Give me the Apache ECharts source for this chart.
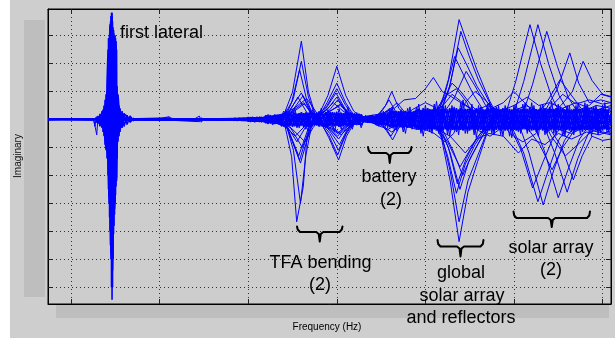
<!DOCTYPE html>
<html><head><meta charset="utf-8">
<script src="https://cdn.jsdelivr.net/npm/echarts@6/dist/echarts.min.js"></script>
<style>html,body{margin:0;padding:0;background:#fff}#c{width:615px;height:338px}</style>
</head><body><div id="c"></div>
<script>
// ---- axis ticks ----
const xTicks = [10,20,30,40,50,60,70];
const yTicks = [-6,-5,-4,-3,-2,-1,0,1,2,3];

// ---- first lateral mode (dense zig-zag of many FRFs) ----
const lateralFreq = [12.82,13.05,13.27,13.50,13.61,13.72,13.84,13.95,14.06,14.18,14.23,14.29,14.35,14.40,14.46,14.51,14.57,14.63,14.68,14.74,14.80,14.85,14.91,14.97,15.02,15.08,15.14,15.19,15.30,15.42,15.53,15.76,15.98,16.32,16.66,17.11];
const lateralA = [.1,-.15,.2,-.3,.35,-.6,.7,-1.0,1.0,-2.0,2.9,-3.0,3.0,-4.0,3.5,-5.0,3.82,-6.45,3.5,-5.0,3.2,-3.8,3.0,-3.0,2.9,-2.4,2.5,-1.4,.6,-.6,.4,-.3,.22,-.18,.12,-.06];
const lateralB = [-.12,.12,-.25,.3,-.45,.5,-.9,.9,-1.4,2.0,-2.5,2.9,-3.5,3.3,-4.5,3.7,-6.0,3.7,-6.0,3.3,-4.1,3.0,-3.4,3.0,-2.7,2.8,-2.1,1.2,-.8,.5,-.45,.3,-.25,.15,-.1,.05];
const lateralC = [.05,.1,-.1,-.2,.2,.3,-.7,-1.1,1.3,2.5,-2.0,-2.8,2.9,3.4,-4.2,-4.8,3.6,3.82,-5.4,-4.6,3.1,3.0,-3.2,-2.9,2.8,2.6,-2.2,-1.2,.9,.4,-.3,-.25,.2,.12,-.08,.04];

// ---- low-frequency baseline FRFs ----
const baseA = [[7.4,.03],[9,.02],[11,.03],[12.5,.02],[12.75,-.3],[12.9,-.55],[13.0,-.1],[13.3,.03],[16,.03],[18,.02],[20,.03],[21.1,.1],[21.3,.02],[24,.03],[24.5,.12],[24.7,-.1],[25,.03],[28,.03]];
const baseB = [[7.4,-.03],[9,-.02],[12.6,-.03],[12.7,-.25],[12.8,-.03],[16,-.03],[21,-.03],[21.1,-.1],[21.3,-.03],[24.5,-.08],[24.7,.06],[25,-.03],[28,-.03]];

// ---- FRFs with visible modal peaks (Hz, imaginary) ----
const m1 = [[7.4,0],[12,.02],[20,0],[26,.03],[30,.05],[32,-.1],[33,.15],[34,.14],[35,.98],[36.0,2.8],[36.8,.98],[37.6,.14],[38.2,-.1],[39.0,-.25],[40.1,-.5],[41.0,-.22],[42,.05],[43.5,-.1],[45,.15],[46.2,.3],[47.2,.1],[49,-.2],[50.5,.2],[51.8,-.65],[52.8,-2.2],[53.8,-4.37],[54.8,-2.6],[55.9,-1.5],[57,-.45],[58,.2],[59.2,.34],[60.2,1.36],[61.8,3.39],[63,2.0],[64.2,.85],[65.2,.2],[66.5,-.3],[68,.2],[69.5,-.1],[70.95,.3]];
const m2 = [[7.4,0],[15,-.02],[22,.02],[27,-.03],[30,.04],[32,-.08],[33.5,.1],[34.2,-.3],[34.9,-1.33],[35.47,-3.66],[36.22,-2.4],[36.6,-.73],[37.2,-.1],[37.8,.05],[39.0,.86],[40.0,1.9],[41.0,.86],[41.9,.3],[42.8,.05],[44,.1],[45.5,-.15],[46.3,-.3],[47.3,-.05],[49,.15],[50.5,-.2],[51.6,.36],[52.6,1.43],[53.8,3.57],[54.6,2.85],[55.8,1.78],[57.2,.7],[58.2,.1],[59.5,-.1],[60.7,-.3],[61.7,-1.2],[63.3,-3.06],[64.5,-1.8],[65.7,-.75],[67,-.15],[68.5,.1],[70.95,-.2]];
const m3 = [[7.4,.02],[14,0],[20,-.02],[26,0],[30,-.05],[32,.1],[33.5,-.1],[34.2,.1],[35.1,.75],[36.0,2.08],[36.8,.8],[37.6,.1],[38.2,-.1],[39.1,-.65],[40.2,-1.45],[41.1,-.6],[42,-.1],[43.5,.1],[45,-.1],[46.5,.2],[48,-.1],[50,.15],[51.8,-.5],[52.8,-1.85],[53.8,-3.66],[54.8,-2.2],[55.9,-1.3],[57,-.4],[58,.1],[60.1,.34],[61.1,1.36],[62.7,3.39],[63.9,2.0],[65.1,.85],[66.1,.3],[67.5,-.1],[69,.3],[70.95,.5]];
const m4 = [[7.4,-.02],[16,.02],[24,-.02],[28,.03],[31,-.05],[33,.08],[34.3,-.2],[35.1,-1.1],[35.9,-3.0],[36.5,-1.3],[37.1,-.3],[37.8,0],[38.9,.6],[40.0,1.3],[41.0,.6],[42,.1],[43.5,-.1],[45.5,.15],[47,-.1],[49,.2],[50.5,-.15],[51.8,.3],[52.8,1.26],[54.0,3.15],[54.9,2.3],[56,1.4],[57.4,.5],[58.5,-.1],[59.8,-.3],[61.1,-1.2],[62.7,-2.94],[63.9,-1.8],[65.1,-.7],[66.3,-.2],[68,.15],[70.95,0]];
const m5 = [[7.4,0],[12.9,-.02],[18,.02],[25,0],[30,.05],[32.5,-.1],[34.0,.1],[34.9,.62],[35.8,1.78],[36.6,.7],[37.4,.1],[38.2,-.15],[39.1,-.57],[40.1,-1.27],[41.0,-.55],[41.9,-.1],[43,.1],[44.5,.1],[45.5,.5],[46.2,1.0],[47.0,.4],[48,.05],[50,-.15],[51.6,-.4],[52.5,-1.3],[53.5,-2.64],[54.5,-1.6],[55.6,-.9],[56.8,-.3],[58,.1],[61.1,.3],[62.1,1.26],[63.7,3.15],[64.9,1.9],[66.1,.8],[67.1,.3],[68.5,.5],[69.8,.9],[70.95,.8]];
const m6 = [[7.4,0],[20,.02],[27,-.02],[31,.06],[33,-.1],[34.4,-.3],[35.9,-1.56],[37.0,-.35],[37.8,.1],[38.9,.5],[40.0,1.1],[41.0,.5],[42,.05],[43.5,-.1],[44.8,-.1],[45.6,-.4],[46.3,-.73],[47.0,-.3],[48.2,0],[50,.2],[51.6,.26],[52.6,1.0],[53.7,2.56],[54.6,2.0],[55.8,1.2],[57.2,.5],[58.5,-.1],[60.5,-.2],[62.4,-.3],[63.4,-1.1],[65.0,-2.8],[66.2,-1.7],[67.4,-.7],[68.5,-.2],[70,-.45],[70.95,-.5]];
const m7 = [[7.4,.01],[13,0],[21.1,.06],[22,0],[28,.02],[31,-.06],[33,.1],[34.4,.2],[36.0,.95],[37.1,.2],[38.2,-.1],[39.2,-.5],[40.2,-1.1],[41.1,-.45],[42,-.05],[44,.15],[46,-.1],[48,.15],[50,-.2],[51.8,-.35],[52.8,-1.2],[53.9,-2.5],[54.9,-1.5],[56,-.85],[57.1,-.25],[58.5,.15],[60,-.1],[63.5,.3],[64.9,1.1],[66.3,2.38],[67.3,1.3],[68.5,.6],[69.8,.7],[70.95,.6]];
const m8 = [[7.4,0],[16,.02],[24.6,-.05],[25.2,.03],[29,0],[31.5,.08],[33,-.05],[34.4,-.3],[35.8,-1.45],[36.9,-.3],[37.8,0],[38.9,.45],[39.9,.95],[40.9,.4],[41.8,.05],[43,-.1],[44.5,.1],[45.2,.35],[45.9,.7],[46.7,.25],[48,-.05],[49.5,.15],[51.2,.25],[52.2,.9],[53.3,2.25],[54.3,1.6],[55.4,.9],[56.6,.3],[58,-.15],[60,.1],[63.4,-.25],[64.6,-1.2],[66.0,-2.6],[67.2,-1.4],[68.4,-.5],[69.6,-.3],[70.95,-.3]];
const m9 = [[7.4,0],[12.9,.02],[19,-.02],[26,.02],[30,-.04],[32,.05],[34.6,.15],[36.2,.85],[37.3,.15],[38.4,-.1],[39.3,-.45],[40.3,-.9],[41.2,-.35],[42.3,0],[44,-.1],[46,.15],[48,-.1],[50,.1],[51.6,-.35],[52.6,-1.0],[53.6,-2.3],[54.6,-1.4],[55.7,-.7],[57,-.2],[58.5,.2],[61,-.2],[64,.1],[65.3,.5],[66.6,1.0],[67.8,2.08],[68.8,1.4],[70,.9],[70.95,.82]];
const m10 = [[7.4,0],[17,-.02],[23,.02],[28,-.02],[32,.06],[33.5,-.1],[34.5,-.35],[35.7,-1.3],[36.8,-.3],[37.7,.05],[38.9,.35],[40.0,.8],[41.0,.3],[42,0],[44,.1],[45.4,-.25],[46.1,-.6],[46.9,-.2],[48,.05],[50,-.1],[52,.2],[53.3,.8],[54.6,1.72],[55.6,1.2],[56.8,.5],[58,.05],[60,-.15],[64,-.3],[65.4,-1.0],[66.7,-2.16],[67.7,-1.3],[68.8,-.6],[70,-.75],[70.95,-.7]];
const m11 = [[7.4,0],[14,.01],[22,-.03],[27,.02],[31,.05],[33,-.08],[34.5,.2],[35.6,.8],[36.7,.2],[38.0,-.1],[39.2,-.35],[40.2,-.7],[41.2,-.25],[42.5,.05],[44.5,-.1],[47,.15],[49,.1],[50.5,-.1],[52,-.4],[53.1,-1.1],[54.2,-2.0],[55.2,-1.3],[56.4,-.6],[57.6,-.1],[59,.2],[62,.1],[63.5,.5],[65.2,1.42],[66.4,.9],[67.8,.3],[69.3,.5],[70.95,.4]];
const m12 = [[7.4,0],[15,0],[21,.03],[25,-.02],[30,.03],[32.5,.08],[34.6,-.2],[36.1,-1.0],[37.2,-.2],[38.2,.05],[39.2,.35],[40.1,.7],[41.1,.25],[42.3,-.05],[44,.12],[46.5,-.1],[49,.2],[51.4,.3],[52.2,.8],[53.0,1.3],[54,1.0],[55.2,.5],[56.5,.1],[58.3,-.2],[59.6,-.3],[60.8,-1.1],[62.1,-2.45],[63.3,-1.5],[64.5,-.6],[65.8,-.1],[67.5,-.3],[69,.2],[70.95,.1]];
const m13 = [[7.4,0],[18,.02],[26,-.02],[31,.05],[33.5,.1],[35,.3],[36.3,.6],[37.3,.1],[38.3,.15],[39.5,.35],[40.4,.5],[41.5,.15],[43,-.05],[45,.1],[47,-.05],[49,-.2],[51,-.2],[52.5,-.8],[53.9,-1.7],[55,-1.1],[56.2,-.5],[57.5,0],[59,.2],[61.5,-.3],[62.9,-.9],[64.3,-1.8],[65.5,-1.0],[66.8,-.4],[68.5,0],[70.95,-.2]];
const m14 = [[7.4,0],[19,0],[27,.02],[31,-.05],[33.5,-.1],[34.5,-.3],[35.5,-.8],[36.6,-.2],[38,-.05],[39.4,-.25],[40.4,-.5],[41.4,-.15],[43,.1],[45,.2],[46.5,.4],[47.6,.7],[48.9,.75],[50.0,1.1],[50.9,1.5],[51.9,1.0],[53,.8],[54.5,.5],[56,.2],[57.5,.4],[58.8,.6],[60.0,1.0],[61.2,.6],[62.8,.1],[64.5,-.3],[66.5,-.5],[68.5,-.2],[70.95,-.1]];
// small-amplitude modal FRFs
const s1 = [[7.4,0],[20,.01],[28,0],[31,.05],[33,.1],[34.8,.2],[36.3,.55],[37.5,.15],[38.5,.25],[39.6,.6],[40.7,.3],[42,.05],[43.5,0],[45,.15],[46,.4],[47,.15],[49,.3],[50.5,.2],[52,.5],[53.0,.9],[54.2,.6],[55.5,.3],[57,.5],[58.5,.3],[60,.5],[61.5,.8],[62.8,.5],[64,.6],[65.5,.4],[67,.6],[68.5,.4],[70.95,.3]];
const s2 = [[7.4,0],[18,-.01],[28,0],[31,-.05],[33,-.12],[34.2,-.25],[35.3,-.6],[36.5,-.2],[38,-.15],[39.4,-.3],[40.5,-.55],[41.6,-.2],[43,-.05],[45,-.2],[46.2,-.45],[47.3,-.2],[49,-.35],[51,-.3],[52.8,-.6],[54.5,-1.2],[55.8,-.7],[57.2,-.5],[58.8,-.6],[60.5,-1.2],[62,-.7],[63.5,-.9],[65,-.5],[66.5,-.7],[68.2,-.45],[69.6,-.55],[70.95,-.4]];
const s3 = [[7.4,0],[22,.01],[28,0],[32,.08],[34,.2],[35.2,.4],[36.6,.75],[37.6,.3],[38.4,-.2],[39.3,-.35],[40.1,-.6],[40.9,-.25],[42,0],[44,-.1],[45.6,.25],[46.8,.6],[47.8,.2],[49.5,-.3],[51,-.5],[52.2,-.8],[53.2,-.5],[54.5,.6],[55.6,1.0],[56.7,.7],[58,.3],[59.5,-.5],[61,-.8],[62.5,-.5],[64,.4],[65.5,.9],[67,.55],[68.5,.7],[70,.55],[70.95,.6]];
const s4 = [[7.4,0],[24,-.01],[28,0],[32,-.06],[34,-.15],[35,-.35],[36.4,-.8],[37.3,-.3],[38.3,.1],[39.3,.3],[40.4,.55],[41.5,.2],[43,.05],[44.5,-.2],[45.8,-.35],[47,-.15],[48.5,.35],[50,.6],[51.3,.4],[52.5,.9],[53.5,1.1],[54.7,.6],[56,-.4],[57.3,-.6],[58.6,-.3],[60,.3],[61.3,.5],[62.8,.3],[64.2,-.6],[65.8,-1.3],[67.2,-.9],[68.8,-.4],[70.95,-.55]];

// ---- dense band of low-amplitude FRFs ----
const bandFreq = [28,28.5,29,29.5,30,30.5,31,31.5,32,32.5,
33,33.5,34,34.5,35,35.5,36,36.5,37,37.5,
38,38.5,39,39.5,40,40.5,41,41.5,42,42.5,
43,43.5,44,44.5,45,45.5,46,46.5,47,47.5,
48,48.5,49,49.5,50,50.5,51,51.5,52,52.5,
53,53.5,54,54.5,55,55.5,56,56.5,57,57.5,
58,58.5,59,59.5,60,60.5,61,61.5,62,62.5,
63,63.5,64,64.5,65,65.5,66,66.5,67,67.5,
68,68.5,69,69.5,70,70.5,70.95];
const b1 = [.03,-.03,.04,-.04,.07,-.06,.08,-.09,.14,-.12,
.15,-.16,.22,-.25,.2,-.24,.26,-.22,.25,-.2,
.24,-.26,.22,-.25,.2,-.23,.26,-.22,.2,-.18,
.1,-.08,.1,-.2,.18,-.22,.3,-.26,.28,-.3,
.27,-.3,.35,-.38,.36,-.34,.4,-.37,.35,-.4,
.38,-.36,.4,-.35,.37,-.4,.34,-.38,.4,-.36,
.38,-.4,.36,-.35,.4,-.38,.37,-.4,.35,-.36,
.4,-.37,.38,-.35,.4,-.36,.38,-.4,.35,-.38,
.4,-.36,.38,-.4,.35,-.38,.2];
const b2 = [-.03,.04,-.03,.04,-.06,.08,-.07,.08,-.13,.15,
-.16,.14,-.24,.22,-.26,.2,-.22,.25,-.24,.22,
-.25,.2,-.24,.26,-.22,.24,-.2,.25,-.18,.2,
-.09,.1,-.07,.18,-.2,.2,-.28,.3,-.25,.28,
-.3,.26,-.36,.34,-.4,.37,-.35,.38,-.4,.36,
-.35,.4,-.37,.38,-.4,.35,-.38,.36,-.34,.4,
-.37,.35,-.4,.38,-.36,.4,-.35,.38,-.4,.37,
-.36,.4,-.35,.38,-.37,.4,-.36,.35,-.4,.37,
-.38,.4,-.35,.37,-.4,.36,-.1];
const b3 = [.02,.02,-.02,-.03,.05,.04,-.05,-.06,.1,.08,
-.1,-.12,.16,.15,-.15,-.18,.18,.14,-.16,-.15,
.16,.18,-.15,-.17,.18,.15,-.16,-.14,.14,.12,
-.07,-.06,.06,.12,-.14,-.16,.2,.22,-.2,-.22,
.22,.2,-.26,-.28,.25,.28,-.26,-.25,.28,.26,
-.27,-.24,.28,.26,-.25,-.28,.26,.24,-.27,-.26,
.28,.25,-.26,-.28,.24,.27,-.28,-.25,.26,.28,
-.25,-.27,.28,.24,-.26,-.28,.25,.27,-.26,-.24,
.27,.25,-.28,-.26,.24,.26,-.2];
const b4 = [-.01,.03,.01,-.02,.04,-.07,.02,.06,-.1,.05,
.12,-.08,-.18,.2,.05,-.2,.1,.22,-.15,.05,
-.22,.18,.08,-.2,.24,-.05,-.2,.18,.05,-.15,
.06,-.1,.08,-.15,.12,.05,-.25,.2,.1,-.3,
.22,.05,-.33,.3,-.1,.35,-.3,.12,.3,-.35,
.05,.32,-.3,-.08,.35,-.32,.1,.3,-.35,.02,
.34,-.3,-.1,.33,-.35,.08,.36,-.28,-.05,.35,
-.33,.1,.3,-.36,.05,.34,-.3,-.1,.35,-.32,
.08,.33,-.34,.05,.3,-.3,.25];
const b5 = [.02,-.01,.03,-.03,.06,-.05,.08,-.08,.12,-.15,
.18,-.14,.3,-.1,.35,-.3,.2,-.35,.3,-.2,
.3,-.25,.35,-.2,.28,-.35,.3,-.2,.22,-.2,
.12,-.1,.12,-.15,.25,-.25,.35,-.4,.3,-.45,
.4,-.35,.45,-.5,.5,-.45,.55,-.5,.48,-.55,
.5,-.45,.6,-.5,.45,-.55,.5,-.45,.55,-.5,
.45,-.55,.5,-.6,.5,-.45,.55,-.5,.6,-.45,
.5,-.55,.45,-.5,.55,-.6,.5,-.45,.5,-.55,
.6,-.5,.45,-.55,.5,-.45,-.3];
const b6 = [0,.02,.03,.02,0,-.04,-.06,-.04,0,.08,
.1,.05,-.1,-.15,-.05,.1,.18,.1,-.1,-.2,
-.1,.12,.2,.05,-.15,-.2,0,.2,.15,-.05,
-.08,0,.08,.1,0,-.15,-.25,-.1,.15,.3,
.2,-.1,-.3,-.35,-.1,.2,.35,.3,0,-.3,
-.38,-.2,.1,.3,.38,.2,-.1,-.3,-.4,-.15,
.15,.35,.3,0,-.3,-.38,-.2,.1,.35,.3,
0,-.3,-.4,-.15,.2,.38,.3,-.05,-.35,-.35,
-.1,.25,.38,.2,-.15,-.3,-.2];
const b7 = [-.02,0,.03,-.02,-.05,.06,.03,-.08,-.05,.12,
-.08,-.15,.15,.1,-.2,-.12,.22,.08,-.25,.1,
.2,-.18,-.1,.24,-.15,-.1,.22,-.24,.05,.16,
-.1,.05,.09,-.08,-.18,.15,.1,-.28,.25,.05,
-.3,.15,.25,-.3,.1,.28,-.35,-.05,.35,-.2,
-.25,.35,-.1,-.3,.3,.15,-.35,.1,.3,-.3,
-.05,.35,-.25,-.2,.35,-.1,-.3,.3,.1,-.35,
.2,.25,-.35,.05,.3,-.25,-.15,.35,-.1,-.3,
.3,.05,-.35,.2,.2,-.35,.05];
// second, interleaved frequency grid
const bandFreq2 = [28.25,28.75,29.25,29.75,30.25,30.75,31.25,31.75,32.25,32.75,
33.25,33.75,34.25,34.75,35.25,35.75,36.25,36.75,37.25,37.75,
38.25,38.75,39.25,39.75,40.25,40.75,41.25,41.75,42.25,42.75,
43.25,43.75,44.25,44.75,45.25,45.75,46.25,46.75,47.25,47.75,
48.25,48.75,49.25,49.75,50.25,50.75,51.25,51.75,52.25,52.75,
53.25,53.75,54.25,54.75,55.25,55.75,56.25,56.75,57.25,57.75,
58.25,58.75,59.25,59.75,60.25,60.75,61.25,61.75,62.25,62.75,
63.25,63.75,64.25,64.75,65.25,65.75,66.25,66.75,67.25,67.75,
68.25,68.75,69.25,69.75,70.25,70.75];
const c1 = [.03,-.04,.03,-.04,.07,-.08,.07,-.08,.14,-.15,
.14,-.16,.24,-.22,.25,-.24,.22,-.26,.24,-.22,
.25,-.22,.26,-.24,.22,-.25,.24,-.26,.2,-.2,
.1,-.1,.09,-.18,.2,-.2,.3,-.28,.3,-.27,
.3,-.28,.38,-.36,.4,-.38,.36,-.4,.38,-.35,
.4,-.38,.36,-.4,.38,-.36,.4,-.38,.35,-.4,
.38,-.36,.4,-.38,.36,-.4,.38,-.35,.4,-.38,
.36,-.4,.38,-.36,.4,-.38,.35,-.4,.38,-.36,
.4,-.38,.36,-.4,.38,-.35];
const c2 = [-.04,.03,-.04,.03,-.08,.07,-.08,.06,-.15,.13,
-.15,.15,-.22,.25,-.24,.22,-.26,.24,-.22,.25,
-.24,.26,-.22,.25,-.26,.22,-.25,.24,-.2,.18,
-.1,.08,-.1,.2,-.18,.22,-.28,.3,-.27,.3,
-.28,.3,-.36,.4,-.38,.36,-.4,.38,-.35,.4,
-.38,.36,-.4,.38,-.36,.4,-.38,.35,-.4,.38,
-.36,.4,-.38,.36,-.4,.38,-.35,.4,-.38,.36,
-.4,.38,-.36,.4,-.38,.35,-.4,.38,-.36,.4,
-.38,.36,-.4,.38,-.35,.4];
const c3 = [.02,-.03,.04,-.02,.06,-.1,.1,-.05,.18,-.2,
.1,-.25,.35,-.15,.4,-.3,.1,-.42,.35,-.15,
.4,-.3,.2,-.45,.38,-.2,.45,-.35,.25,-.3,
.15,-.12,.1,-.25,.3,-.3,.45,-.4,.35,-.5,
.45,-.3,.55,-.6,.4,-.5,.65,-.45,.5,-.6,
.45,-.55,.7,-.5,.55,-.65,.45,-.5,.6,-.55,
.5,-.6,.45,-.65,.55,-.5,.6,-.45,.5,-.6,
.55,-.5,.65,-.55,.45,-.6,.5,-.55,.6,-.45,
.55,-.6,.5,-.45,.6,-.5];
const c4 = [.01,-.02,.02,.03,-.04,-.06,.05,.07,-.1,-.12,
.08,.18,-.05,-.22,.12,.2,-.18,-.1,.22,.05,
-.2,-.15,.2,.1,-.22,.05,.22,-.15,-.18,.12,
.08,-.08,-.05,.15,-.18,-.1,.25,.05,-.28,.1,
.28,-.2,-.3,.25,.2,-.35,.1,.35,-.25,-.2,
.35,.05,-.35,.15,.3,-.3,-.15,.35,.1,-.35,
.2,.3,-.3,-.1,.35,-.2,-.25,.35,.05,-.35,
.3,.1,-.35,.25,.15,-.35,.05,.35,-.3,-.1,
.35,-.2,-.25,.3,.1,-.3];

// ---- build series ----
const zip = (xs, ys) => xs.map((x, i) => [x, ys[i]]);
const BLUE = '#0000ff';
const core = [zip(bandFreq,b1), zip(bandFreq,b2), zip(bandFreq2,c1), zip(bandFreq2,c2)];
const thin = [
  zip(bandFreq,b3), zip(bandFreq,b4), zip(bandFreq,b5), zip(bandFreq,b6), zip(bandFreq,b7),
  zip(bandFreq2,c3), zip(bandFreq2,c4),
  baseA, baseB,
  m1,m2,m3,m4,m5,m6,m7,m8,m9,m10,m11,m12,m13,m14,s1,s2,s3,s4
];
const thick = [zip(lateralFreq,lateralA), zip(lateralFreq,lateralB), zip(lateralFreq,lateralC)];
const mk = (d, w) => ({
  type: 'line', data: d, symbol: 'none', silent: true, animation: false,
  lineStyle: { color: BLUE, width: w }, itemStyle: { color: BLUE }, z: 3
});
const series = core.map(d => mk(d, 1.6)).concat(thin.map(d => mk(d, 1)), thick.map(d => mk(d, 1.6)));

// ---- annotation braces ----
function brace(xL, xR, yT, yB, yP) {
  const xM = (xL + xR) / 2;
  return { type: 'polyline', silent: true, z: 50,
    shape: { points: [[xL,yT],[xL+0.7,yB-2.5],[xL+3,yB],[xM-3.5,yB],[xM-1,yB+2],[xM,yP],[xM+1,yB+2],[xM+3.5,yB],[xR-3,yB],[xR-0.7,yB-2.5],[xR,yT]] },
    style: { stroke: '#000', lineWidth: 2, fill: null, lineJoin: 'round', lineCap: 'round' } };
}
const FONT = '"Liberation Sans", Arial, Helvetica, sans-serif';
function label(text, x, y, size) {
  return { type: 'text', x: x, y: y, silent: true, z: 50,
    style: { text: text, fill: '#000', font: (size || 18) + 'px ' + FONT, textAlign: 'center', textVerticalAlign: 'middle' } };
}

const axisCommon = {
  axisLine: { show: true, onZero: false, lineStyle: { color: '#000', width: 1 } },
  axisLabel: { show: false }
};
const chart = echarts.init(document.getElementById('c'), null, { renderer: 'canvas' });
chart.setOption({
  backgroundColor: '#ffffff',
  animation: false,
  grid: { left: 48, top: 9, right: 4, bottom: 34, show: true, backgroundColor: '#cdcdcd', borderColor: '#000', borderWidth: 1 },
  xAxis: [
    Object.assign({ type: 'value', min: 7.4, max: 70.95, position: 'bottom',
      axisTick: { show: true, inside: true, length: 5, customValues: xTicks, lineStyle: { color: '#222' } },
      splitLine: { show: true, lineStyle: { color: '#333', width: 1, type: [1, 3] } } }, axisCommon),
    Object.assign({ type: 'value', min: 7.4, max: 70.95, position: 'top',
      axisTick: { show: true, inside: true, length: 5, customValues: xTicks, lineStyle: { color: '#222' } },
      splitLine: { show: false } }, axisCommon)
  ],
  yAxis: [
    Object.assign({ type: 'value', min: -6.6, max: 3.95, position: 'left',
      axisTick: { show: true, inside: true, length: 5, customValues: yTicks, lineStyle: { color: '#222' } },
      splitLine: { show: true, lineStyle: { color: '#333', width: 1, type: [1, 3] } } }, axisCommon),
    Object.assign({ type: 'value', min: -6.6, max: 3.95, position: 'right',
      axisTick: { show: true, inside: true, length: 5, customValues: yTicks, lineStyle: { color: '#222' } },
      splitLine: { show: false } }, axisCommon)
  ],
  series: series,
  graphic: { elements: [
    { type: 'rect', z: -100, silent: true, shape: { x: 10, y: 0, width: 605, height: 338 }, style: { fill: '#cecece' } },
    { type: 'rect', z: -90, silent: true, shape: { x: 24, y: 20, width: 21, height: 277 }, style: { fill: '#bebebe' } },
    { type: 'rect', z: -90, silent: true, shape: { x: 56, y: 304, width: 553, height: 14 }, style: { fill: '#bebebe' } },
    { type: 'text', x: 18.5, y: 156, rotation: Math.PI / 2, silent: true, z: 50,
      style: { text: 'Imaginary', fill: '#111', font: '10px ' + FONT, textAlign: 'center', textVerticalAlign: 'middle' } },
    label('Frequency (Hz)', 327, 327, 10),
    { type: 'text', x: 120, y: 33, silent: true, z: 50,
      style: { text: 'first lateral', fill: '#000', font: '18px ' + FONT, textAlign: 'left', textVerticalAlign: 'middle' } },
    brace(297, 342.5, 226.5, 232, 241.5),
    label('TFA bending', 320.5, 263), label('(2)', 320, 285),
    brace(368, 411.5, 147, 153, 163),
    label('battery', 389, 177), label('(2)', 391, 200),
    brace(437.5, 483.5, 240, 246.5, 256.5),
    label('global', 461, 273), label('solar array', 462, 296), label('and reflectors', 461, 318),
    brace(513.5, 590, 211.5, 218, 227),
    label('solar array', 551, 248), label('(2)', 551, 270)
  ] }
});
</script></body></html>
